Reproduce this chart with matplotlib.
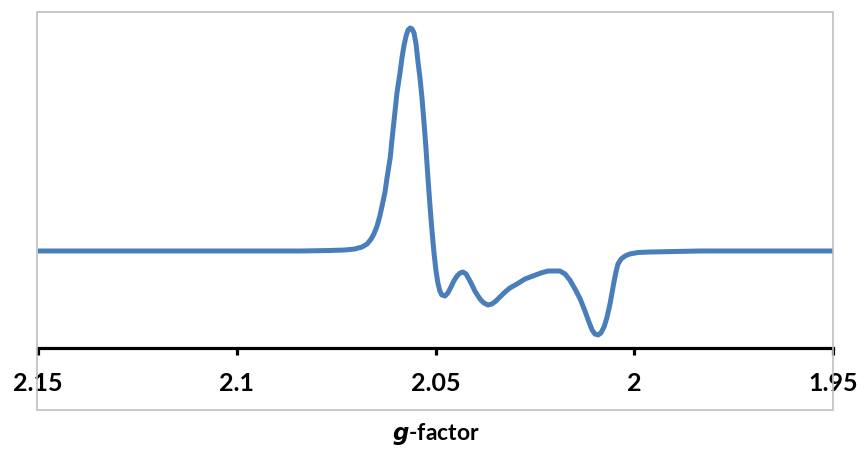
import matplotlib.pyplot as plt
from matplotlib.patches import Rectangle

# g-factor values and signal in arbitrary units
g_factor = [2.1500, 2.1092, 2.0841, 2.0765, 2.0728, 2.0703, 2.0685, 2.0672,
            2.0662, 2.0655, 2.0647, 2.0640, 2.0635, 2.0627, 2.0622, 2.0614,
            2.0609, 2.0602, 2.0597, 2.0589, 2.0584, 2.0579, 2.0574, 2.0569,
            2.0564, 2.0559, 2.0554, 2.0549, 2.0544, 2.0539, 2.0534, 2.0529,
            2.0524, 2.0519, 2.0514, 2.0509, 2.0504, 2.0499, 2.0494, 2.0489,
            2.0484, 2.0476, 2.0469, 2.0461, 2.0454, 2.0446, 2.0438, 2.0431,
            2.0423, 2.0416, 2.0408, 2.0401, 2.0393, 2.0386, 2.0378, 2.0368,
            2.0358, 2.0348, 2.0338, 2.0325, 2.0313, 2.0295, 2.0275, 2.0255,
            2.0235, 2.0217, 2.0199, 2.0187, 2.0174, 2.0162, 2.0149, 2.0136,
            2.0124, 2.0114, 2.0106, 2.0099, 2.0091, 2.0084, 2.0076, 2.0069,
            2.0061, 2.0056, 2.0051, 2.0046, 2.0041, 2.0033, 2.0023, 2.0011,
            1.9991, 1.9960, 1.9835, 1.9500]
signal = [0, 0, 0, 0.5, 1, 2, 4, 7,
          12, 17, 25, 35, 44, 59, 73, 93,
          113, 139, 158, 179, 194, 206, 215, 221,
          223, 222, 218, 207, 189, 173, 153, 129,
          103, 73, 46, 21, -1, -19, -32, -40,
          -44, -45, -42, -36, -30, -25, -22, -21,
          -23, -28, -34, -40, -45, -49, -52, -54,
          -53, -50, -46, -41, -37, -33, -28, -25,
          -22, -20, -20, -20, -23, -29, -38, -48,
          -60, -71, -79, -83, -84, -82, -76, -67,
          -53, -42, -31, -21, -13, -8, -5, -3,
          -1.5, -1, 0, 0]

tick_pos = [2.15, 2.10, 2.05, 2.00, 1.95]
tick_txt = ['2.15', '2.1', '2.05', '2', '1.95']

plt.rcParams['font.family'] = ['Lato', 'DejaVu Sans']

fig = plt.figure(figsize=(8.66, 4.49), dpi=100)
ax = fig.add_axes([38/866, 101/449, 795/866, 336/449])

ax.plot(g_factor, signal, color='#4a7ebb', lw=3.6,
        solid_joinstyle='round', solid_capstyle='round')

ax.set_xlim(2.15, 1.95)
ax.set_ylim(-97, 239)

for s in ['left', 'right', 'top']:
    ax.spines[s].set_visible(False)
ax.spines['bottom'].set_linewidth(2.3)
ax.spines['bottom'].set_color('black')

ax.set_yticks([])
ax.set_xticks(tick_pos)
ax.set_xticklabels(tick_txt, fontsize=18, fontweight='bold')
ax.tick_params(axis='x', direction='out', length=5, width=2.3, pad=12)
ax.set_xlabel('$\\mathbfit{g}$-factor', fontsize=16.5, fontweight='bold',
              labelpad=19)

# chart-area border
fig.patches.append(Rectangle((37/866, 39/449), 796/866, 398/449,
                             transform=fig.transFigure, fill=False,
                             edgecolor='#bfbfbf', lw=1.2, zorder=0))

fig.savefig('out.png', dpi=100)
